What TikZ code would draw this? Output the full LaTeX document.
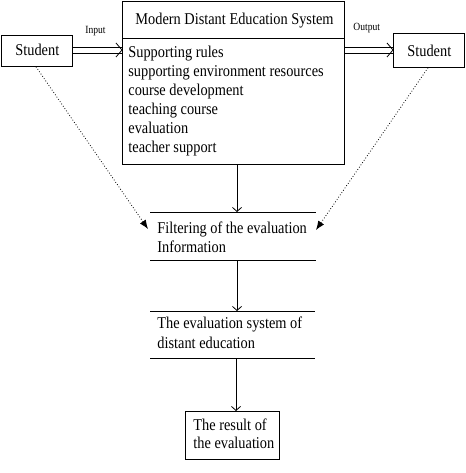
\documentclass[tikz,border=0pt]{standalone}
\usepackage{fontspec}
\setmainfont[FakeStretch=0.87]{Liberation Serif}
\usetikzlibrary{arrows.meta}
\begin{document}
\begin{tikzpicture}[x=1pt,y=-1pt,line width=0.8pt,
  txt/.style={anchor=base west,inner sep=0pt,font=\fontsize{16.5}{19}\selectfont},
  lbl/.style={anchor=base west,inner sep=0pt,font=\fontsize{11}{13}\selectfont},
  frame/.style={draw,anchor=north west,inner sep=0pt},
  bare/.style={anchor=north west,inner sep=0pt},
  down/.style={-{Straight Barb[length=4pt,width=9pt]}},
  dots/.style={dotted,-{Latex[length=9pt,width=7pt]}}]
\useasboundingbox (0,0) rectangle (465,473);
% boxes
\node[frame,minimum width=71pt,minimum height=31pt] (sl) at (0.5,35) {};
\node[frame,minimum width=71pt,minimum height=34pt] (sr) at (393,33) {};
\node[frame,minimum width=222pt,minimum height=163pt] (main) at (122,1) {};
\node[bare,minimum width=165pt,minimum height=48pt] (filt) at (150,212) {};
\node[bare,minimum width=164pt,minimum height=47pt] (evs) at (150,311) {};
\node[frame,minimum width=94pt,minimum height=48pt] (res) at (185,411) {};
\draw (main.west |- 0,38) -- (main.east |- 0,38);
\draw (filt.north west) -- (filt.north east);
\draw (filt.south west) -- (filt.south east);
\draw (evs.north west) -- (evs.north east);
\draw (evs.south west) -- (evs.south east);
% texts
\node[txt] (t1) at (15,56) {Student};
\node[txt] (t2) at (407,57) {Student};
\node[txt] (title) at (135,25) {Modern Distant Education System};
\node[txt] (i1) at (128,58) {Supporting rules};
\node[txt] (i2) at (128,77) {supporting environment resources};
\node[txt] (i3) at (128,96) {course development};
\node[txt] (i4) at (128,115) {teaching course};
\node[txt] (i5) at (128,134) {evaluation};
\node[txt] (i6) at (128,153) {teacher support};
\node[txt] (f1) at (157,233) {Filtering of the evaluation};
\node[txt] (f2) at (157,252) {Information};
\node[txt] (e1) at (157,328) {The evaluation system of};
\node[txt] (e2) at (157,348) {distant education};
\node[txt] (r1) at (193,430) {The result of};
\node[txt] (r2) at (193,448) {the evaluation};
\node[lbl] (lin) at (85,34) {Input};
\node[lbl] (lout) at (353,31) {Output};
% double connectors (two parallel lines and an open chevron)
\draw (sl.east |- 0,47) -- (main.west |- 0,47);
\draw (sl.east |- 0,53) -- (main.west |- 0,53);
\draw (main.west |- 0,50) ++(-6,-7) -- ++(6,7) -- ++(-6,7);
\draw (main.east |- 0,47) -- (sr.west |- 0,47);
\draw (main.east |- 0,53) -- (sr.west |- 0,53);
\draw (sr.west |- 0,50) ++(-6,-7) -- ++(6,7) -- ++(-6,7);
% vertical connectors
\coordinate (ax) at (237,0);
\draw[down] (ax |- main.south) -- (ax |- filt.north);
\draw[down] (ax |- filt.south) -- (ax |- evs.north);
\coordinate (bx) at (236,0);
\draw[down] (bx |- evs.south) -- (bx |- res.north);
\draw[dots] (sl.south -| 36,0) -- (148,229);
\draw[dots] (sr.south -| 428,0) -- (316,230);
\end{tikzpicture}
\end{document}
